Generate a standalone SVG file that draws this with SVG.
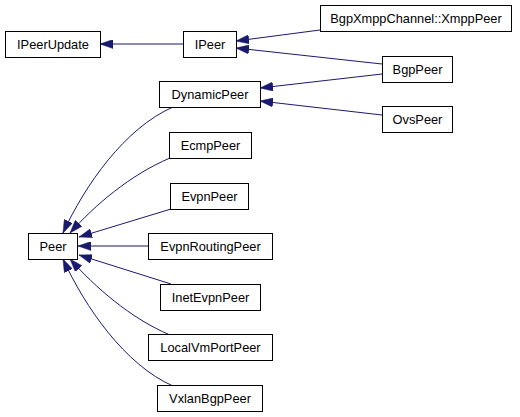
<svg xmlns="http://www.w3.org/2000/svg" width="520" height="417" viewBox="0 0 520 417">
<style>
.n rect{fill:#fff;stroke:#000;stroke-width:1}
.n text{font-family:"Liberation Sans",Arial,sans-serif;font-size:12.8px;fill:#000;text-anchor:middle}
.e path{fill:none;stroke:#191970;stroke-width:1}
</style>
<defs>
<marker id="a" viewBox="0 0 13 9" refX="13" refY="4.5" markerWidth="13" markerHeight="9" markerUnits="userSpaceOnUse" orient="auto">
<path d="M0,0 L13,4.5 L0,9 z" fill="#191970" stroke="#191970" stroke-width="0.5"/>
</marker>
</defs>
<rect width="520" height="417" fill="#fff"/>
<g class="e">
<path marker-end="url(#a)" d="M183,44 L100,44"/>
<path marker-end="url(#a)" d="M320,30 L236,41"/>
<path marker-end="url(#a)" d="M382,64 L236,48"/>
<path marker-end="url(#a)" d="M382,74 L260,88"/>
<path marker-end="url(#a)" d="M382,115 L260,101"/>
<path marker-end="url(#a)" d="M173,107 C125,128 85,185 63,233"/>
<path marker-end="url(#a)" d="M170,158 C130,175 95,205 70,233"/>
<path marker-end="url(#a)" d="M171,209 L79,237"/>
<path marker-end="url(#a)" d="M148,246 L78,246"/>
<path marker-end="url(#a)" d="M171,284 L79,255"/>
<path marker-end="url(#a)" d="M170,335 C130,318 95,287 70,259"/>
<path marker-end="url(#a)" d="M173,386 C125,365 85,307 63,259"/>
</g>
<g id="IPeerUpdate" class="n"><rect x="5.5" y="31.5" width="95" height="26"/><text x="53" y="49">IPeerUpdate</text></g>
<g id="IPeer" class="n"><rect x="183.5" y="31.5" width="53" height="26"/><text x="210" y="49">IPeer</text></g>
<g id="XmppPeer" class="n"><rect x="320.5" y="5.5" width="191" height="26"/><text x="416" y="23">BgpXmppChannel::XmppPeer</text></g>
<g id="BgpPeer" class="n"><rect x="382.5" y="56.5" width="70" height="26"/><text x="417.5" y="74">BgpPeer</text></g>
<g id="OvsPeer" class="n"><rect x="382.5" y="106.5" width="70" height="26"/><text x="417.5" y="124">OvsPeer</text></g>
<g id="DynamicPeer" class="n"><rect x="159.5" y="81.5" width="101" height="26"/><text x="210" y="99">DynamicPeer</text></g>
<g id="EcmpPeer" class="n"><rect x="169.5" y="132.5" width="82" height="26"/><text x="210.5" y="150">EcmpPeer</text></g>
<g id="EvpnPeer" class="n"><rect x="170.5" y="183.5" width="78" height="26"/><text x="209.5" y="201">EvpnPeer</text></g>
<g id="EvpnRoutingPeer" class="n"><rect x="148.5" y="233.5" width="124" height="26"/><text x="210.5" y="251">EvpnRoutingPeer</text></g>
<g id="InetEvpnPeer" class="n"><rect x="160.5" y="284.5" width="100" height="26"/><text x="210.5" y="302">InetEvpnPeer</text></g>
<g id="LocalVmPortPeer" class="n"><rect x="148.5" y="334.5" width="124" height="26"/><text x="210.5" y="352">LocalVmPortPeer</text></g>
<g id="VxlanBgpPeer" class="n"><rect x="157.5" y="385.5" width="105" height="26"/><text x="210" y="403">VxlanBgpPeer</text></g>
<g id="Peer" class="n"><rect x="28.5" y="233.5" width="49" height="26"/><text x="53" y="251">Peer</text></g>
</svg>
